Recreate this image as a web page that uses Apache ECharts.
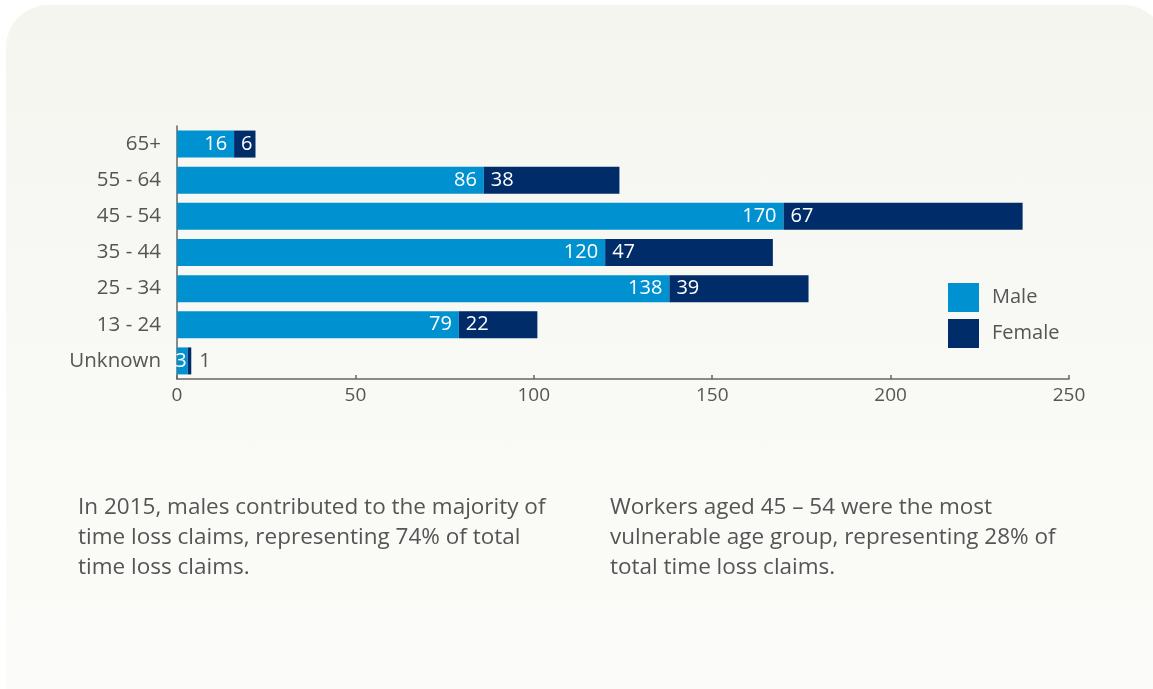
<!DOCTYPE html>
<html>
<head>
<meta charset="utf-8">
<script src="https://cdn.jsdelivr.net/npm/echarts@6/dist/echarts.min.js"></script>
<style>
html,body{margin:0;padding:0;background:#ffffff;width:1153px;height:689px;overflow:hidden;}
#panel{position:absolute;left:6px;top:5px;width:1160px;height:700px;border-radius:42px 42px 0 0;
background:linear-gradient(#f5f5f0,#fafaf7 70%,#fbfbf9);}
#chart{position:absolute;left:0;top:0;width:1153px;height:689px;}
</style>
</head>
<body>
<div id="panel"></div>
<div id="chart"></div>
<script>
const categories = ['Unknown', '13 - 24', '25 - 34', '35 - 44', '45 - 54', '55 - 64', '65+'];
const maleValues = [3, 79, 138, 120, 170, 86, 16];
const femaleValues = [1, 22, 39, 47, 67, 38, 6];
const xTicks = [0, 50, 100, 150, 200, 250];
const noteLeft = ['In 2015, males contributed to the majority of', 'time loss claims, representing 74% of total', 'time loss claims.'];
const noteRight = ['Workers aged 45 \u2013 54 were the most', 'vulnerable age group, representing 28% of', 'total time loss claims.'];

const FONT = 'Open Sans';
const chart = echarts.init(document.getElementById('chart'), null, {renderer: 'canvas'});

const maleData = maleValues.map(v => v < 5 ? {value: v, label: {distance: 1}} : v);
const femaleData = femaleValues.map(v => v < 3
  ? {value: v, label: {position: 'right', color: '#555555', distance: 8}}
  : v);

chart.setOption({
  backgroundColor: 'transparent',
  animation: false,
  textStyle: {fontFamily: FONT},
  grid: {left: 177, right: 84, top: 126, bottom: 310, containLabel: false},
  legend: {
    orient: 'vertical', left: 948, top: 283, padding: 0,
    itemWidth: 31, itemHeight: 29, itemGap: 7,
    icon: 'rect',
    textStyle: {fontFamily: FONT, fontSize: 20, color: '#555555', padding: [6, 0, 0, 8]},
    data: ['Male', 'Female']
  },
  xAxis: {
    type: 'value', min: 0, max: 250, interval: 50,
    axisLine: {show: true, lineStyle: {color: '#666666', width: 1.5}},
    axisTick: {show: true, inside: true, length: 4, lineStyle: {color: '#666666', width: 1.5}},
    splitLine: {show: false},
    axisLabel: {fontFamily: FONT, fontSize: 19, color: '#555555', margin: 7,
      formatter: v => xTicks.includes(v) ? String(v) : ''}
  },
  yAxis: {
    type: 'category', data: categories,
    axisLine: {show: true, lineStyle: {color: '#666666', width: 1.5}},
    axisTick: {show: false},
    axisLabel: {fontFamily: FONT, fontSize: 20.5, color: '#555555', margin: 16, padding: [2, 0, 0, 0]}
  },
  series: [
    {
      name: 'Male', type: 'bar', stack: 'total', barWidth: 27,
      itemStyle: {color: '#0092d0'},
      label: {show: true, position: 'insideRight', distance: 7, color: '#ffffff', fontFamily: FONT, fontSize: 20},
      data: maleData
    },
    {
      name: 'Female', type: 'bar', stack: 'total', barWidth: 27,
      itemStyle: {color: '#002c6a'},
      label: {show: true, position: 'insideLeft', distance: 7, color: '#ffffff', fontFamily: FONT, fontSize: 20},
      data: femaleData
    }
  ],
  graphic: [
    {type: 'text', left: 78, top: 493, style: {text: noteLeft.join('\n'), font: '22.5px "' + FONT + '"', fill: '#555555', lineHeight: 30}},
    {type: 'text', left: 610, top: 493, style: {text: noteRight.join('\n'), font: '22.5px "' + FONT + '"', fill: '#555555', lineHeight: 30}}
  ]
});
</script>
</body>
</html>
